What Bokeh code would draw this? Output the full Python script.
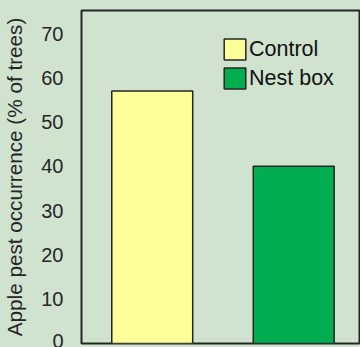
from bokeh.plotting import figure
from bokeh.models import Range1d, FixedTicker, Legend, LegendItem, ColumnDataSource
from bokeh.embed import file_html
from bokeh.resources import INLINE

# Data
categories = ["Control", "Nest box"]
values = [57, 40]
colors = ["#ffff99", "#00ad4f"]
y_ticks = [0, 10, 20, 30, 40, 50, 60, 70]

BG = "#cfe3cf"

positions = [i + 1 for i in range(len(categories))]
src = ColumnDataSource(dict(x=positions, top=values, color=colors, label=categories))

p = figure(width=360, height=347, output_backend="svg", toolbar_location=None,
           x_range=Range1d(0.5, 2.472), y_range=Range1d(0, 75.2))
p.background_fill_color = BG
p.border_fill_color = BG
p.outline_line_color = "#262626"
p.outline_line_width = 2
p.min_border_left = 81
p.min_border_right = 0
p.min_border_top = 10
p.min_border_bottom = 4
p.grid.visible = False
p.xaxis.visible = False

r = p.vbar(x="x", top="top", width=0.572, bottom=0, fill_color="color",
           line_color="#262626", line_width=1.5, source=src)

ya = p.yaxis[0]
ya.ticker = FixedTicker(ticks=y_ticks)
ya.axis_line_color = None
ya.major_tick_line_color = None
ya.minor_tick_line_color = None
ya.major_tick_out = 0
ya.major_tick_in = 0
ya.major_label_standoff = 18
ya.major_label_text_font = "Liberation Sans"
ya.major_label_text_font_size = "20px"
ya.major_label_text_color = "#262626"
ya.axis_label = "Apple pest occurrence (% of trees)"
ya.axis_label_text_font = "Liberation Sans"
ya.axis_label_text_font_size = "20.7px"
ya.axis_label_text_font_style = "normal"
ya.axis_label_text_color = "#262626"
ya.axis_label_standoff = 12

items = [LegendItem(label=categories[i], renderers=[r], index=i) for i in range(len(categories))]
legend = Legend(items=items, location=(140, 252), padding=0, margin=0,
                glyph_width=27, glyph_height=26, label_height=26, spacing=3,
                label_standoff=1, label_text_font="Liberation Sans",
                label_text_font_size="21.5px", label_text_color="#111111",
                background_fill_alpha=0, border_line_color=None)
p.add_layout(legend, "center")

html = file_html(p, INLINE)
html = html.replace("<head>", "<head><style>html, body { background: #cfe3cf; }</style>", 1)
open("out.html", "w").write(html)
